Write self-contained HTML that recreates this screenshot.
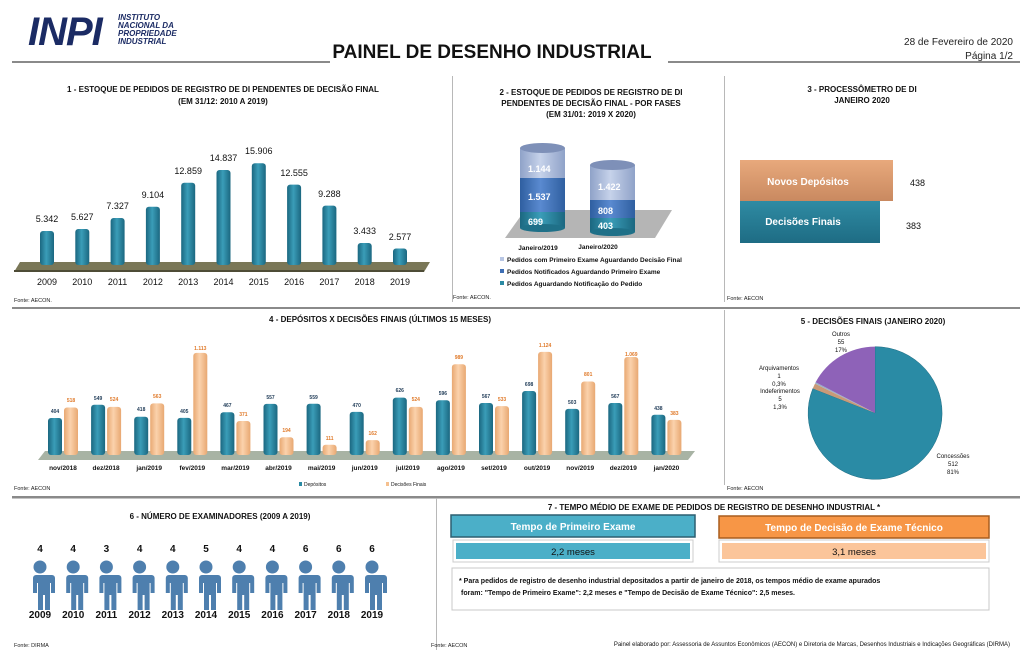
<!DOCTYPE html>
<html><head><meta charset="utf-8"><style>
html,body{margin:0;padding:0;background:#fff}
svg{display:block}
text{font-family:"Liberation Sans",sans-serif}
</style></head><body>
<svg width="1024" height="672" viewBox="0 0 1024 672" xmlns="http://www.w3.org/2000/svg">
<defs>
<linearGradient id="tl" x1="0" x2="1"><stop offset="0" stop-color="#1B6780"/><stop offset=".45" stop-color="#3A9DB8"/><stop offset="1" stop-color="#1B6780"/></linearGradient>
<linearGradient id="pc" x1="0" x2="1"><stop offset="0" stop-color="#E8A872"/><stop offset=".45" stop-color="#FBD2AC"/><stop offset="1" stop-color="#E8A872"/></linearGradient>
<linearGradient id="cb" x1="0" x2="1"><stop offset="0" stop-color="#2F5FA0"/><stop offset=".45" stop-color="#5A8AD0"/><stop offset="1" stop-color="#2F5FA0"/></linearGradient>
<linearGradient id="cl" x1="0" x2="1"><stop offset="0" stop-color="#8FA2C8"/><stop offset=".45" stop-color="#C6D2EA"/><stop offset="1" stop-color="#8FA2C8"/></linearGradient>
<linearGradient id="nd" x1="0" y1="0" x2="0" y2="1"><stop offset="0" stop-color="#E8A97C"/><stop offset="1" stop-color="#C98960"/></linearGradient>
<linearGradient id="df" x1="0" y1="0" x2="0" y2="1"><stop offset="0" stop-color="#2F8BA3"/><stop offset="1" stop-color="#1E6C84"/></linearGradient>
</defs>

<!-- Header -->
<text x="28" y="45" font-size="40" font-weight="bold" font-style="italic" fill="#1B2B64" letter-spacing="-1">INPI</text>
<g font-size="8" font-weight="bold" font-style="italic" fill="#1B2B64">
<text x="118" y="20">INSTITUTO</text><text x="118" y="28">NACIONAL DA</text><text x="118" y="36">PROPRIEDADE</text><text x="118" y="44">INDUSTRIAL</text></g>
<text x="492" y="58" font-size="19" font-weight="bold" text-anchor="middle" fill="#111">PAINEL DE DESENHO INDUSTRIAL</text>
<text x="1013" y="45" font-size="10" text-anchor="end" fill="#222">28 de Fevereiro de 2020</text>
<text x="1013" y="59" font-size="10" text-anchor="end" fill="#222">Página 1/2</text>
<g fill="#8A8A8A"><rect x="12" y="61" width="318" height="2"/><rect x="668" y="61" width="352" height="2"/>
<rect x="12" y="307" width="1008" height="2"/><rect x="12" y="496" width="1008" height="2.5"/></g>
<g fill="#B8B8B8"><rect x="452" y="76" width="1" height="226"/><rect x="724" y="76" width="1" height="226"/><rect x="724" y="310" width="1" height="175"/><rect x="436" y="498" width="1" height="152"/></g>

<!-- Chart 1 -->
<g font-size="8" text-anchor="middle" fill="#111" font-weight="bold">
<text x="223" y="92">1 - ESTOQUE DE PEDIDOS DE REGISTRO DE DI PENDENTES DE DECISÃO FINAL</text>
<text x="223" y="104">(EM 31/12: 2010 A 2019)</text></g>
<polygon points="20,262 430,262 424,272 14,272" fill="#7A7757"/>
<rect x="14" y="270" width="410" height="2" fill="#4E4C36"/>
<g fill="url(#tl)">
<rect x="40" y="231" width="14" height="34" rx="3"/>
<rect x="75.3" y="229" width="14" height="36" rx="3"/>
<rect x="110.6" y="218" width="14" height="47" rx="3"/>
<rect x="145.9" y="206.7" width="14" height="58.3" rx="3"/>
<rect x="181.2" y="182.7" width="14" height="82.3" rx="3"/>
<rect x="216.5" y="170" width="14" height="95" rx="3"/>
<rect x="251.8" y="163.2" width="14" height="101.8" rx="3"/>
<rect x="287.1" y="184.6" width="14" height="80.4" rx="3"/>
<rect x="322.4" y="205.6" width="14" height="59.4" rx="3"/>
<rect x="357.7" y="243" width="14" height="22" rx="3"/>
<rect x="393" y="248.5" width="14" height="16.5" rx="3"/></g>
<g font-size="9" text-anchor="middle" fill="#111">
<text x="47" y="222">5.342</text><text x="82.3" y="220">5.627</text><text x="117.6" y="209">7.327</text><text x="152.9" y="198">9.104</text><text x="188.2" y="174">12.859</text><text x="223.5" y="161">14.837</text><text x="258.8" y="154">15.906</text><text x="294.1" y="176">12.555</text><text x="329.4" y="197">9.288</text><text x="364.7" y="234">3.433</text><text x="400" y="240">2.577</text>
<text x="47" y="285">2009</text><text x="82.3" y="285">2010</text><text x="117.6" y="285">2011</text><text x="152.9" y="285">2012</text><text x="188.2" y="285">2013</text><text x="223.5" y="285">2014</text><text x="258.8" y="285">2015</text><text x="294.1" y="285">2016</text><text x="329.4" y="285">2017</text><text x="364.7" y="285">2018</text><text x="400" y="285">2019</text></g>
<g font-size="5.5" fill="#222"><text x="14" y="302">Fonte: AECON.</text><text x="453" y="299">Fonte: AECON.</text><text x="727" y="300">Fonte: AECON</text><text x="14" y="490">Fonte: AECON</text><text x="727" y="490">Fonte: AECON</text><text x="14" y="647">Fonte: DIRMA</text><text x="431" y="647">Fonte: AECON</text></g>

<!-- Chart 2 -->
<g font-size="8" text-anchor="middle" fill="#111" font-weight="bold">
<text x="591" y="95">2 - ESTOQUE DE PEDIDOS DE REGISTRO DE DI</text>
<text x="591" y="106">PENDENTES DE DECISÃO FINAL - POR FASES</text>
<text x="591" y="117">(EM 31/01: 2019 X 2020)</text></g>
<polygon points="525,210 672,210 655,238 505,238" fill="#B5B5B5"/>
<g>
<rect x="520" y="212" width="45" height="16" fill="url(#tl)"/><ellipse cx="542.5" cy="228" rx="22.5" ry="4" fill="#1F7088"/>
<rect x="520" y="178" width="45" height="34" fill="url(#cb)"/>
<rect x="520" y="148" width="45" height="30" fill="url(#cl)"/>
<ellipse cx="542.5" cy="148" rx="22.5" ry="5" fill="#7E90B8"/>
<rect x="590" y="218" width="45" height="14" fill="url(#tl)"/><ellipse cx="612.5" cy="232" rx="22.5" ry="4" fill="#1F7088"/>
<rect x="590" y="200" width="45" height="18" fill="url(#cb)"/>
<rect x="590" y="165" width="45" height="35" fill="url(#cl)"/>
<ellipse cx="612.5" cy="165" rx="22.5" ry="5" fill="#7E90B8"/></g>
<g font-size="9" fill="#fff" font-weight="bold">
<text x="528" y="172">1.144</text><text x="528" y="200">1.537</text><text x="528" y="225">699</text>
<text x="598" y="190">1.422</text><text x="598" y="214">808</text><text x="598" y="229">403</text></g>
<g font-size="6.5" fill="#111" font-weight="bold">
<text x="538" y="250" text-anchor="middle">Janeiro/2019</text><text x="598" y="249" text-anchor="middle">Janeiro/2020</text>
<rect x="500" y="257" width="4" height="4" fill="#B8C6E4"/><text x="507" y="262">Pedidos com Primeiro Exame Aguardando Decisão Final</text>
<rect x="500" y="269" width="4" height="4" fill="#3E6FB5"/><text x="507" y="274">Pedidos Notificados Aguardando Primeiro Exame</text>
<rect x="500" y="281" width="4" height="4" fill="#2A8AA3"/><text x="507" y="286">Pedidos Aguardando Notificação do Pedido</text></g>

<!-- Chart 3 -->
<g font-size="8" text-anchor="middle" fill="#111" font-weight="bold">
<text x="862" y="92">3 - PROCESSÔMETRO DE DI</text><text x="862" y="103">JANEIRO 2020</text></g>
<rect x="740" y="160" width="153" height="41" fill="url(#nd)"/>
<rect x="740" y="201" width="140" height="42" fill="url(#df)"/>
<g font-size="10" fill="#fff" font-weight="bold" text-anchor="middle">
<text x="808" y="185">Novos Depósitos</text><text x="803" y="225">Decisões  Finais</text></g>
<g font-size="9" fill="#111"><text x="910" y="186">438</text><text x="906" y="229">383</text></g>

<!-- Chart 4 -->
<text x="380" y="322" font-size="8" font-weight="bold" text-anchor="middle" fill="#111">4 - DEPÓSITOS X DECISÕES FINAIS (ÚLTIMOS 15 MESES)</text>
<polygon points="45,451 695,451 688,460 38,460" fill="#A8B3A4"/>
<g fill="url(#tl)">
<rect x="48" y="418" width="14" height="37" rx="3"/>
<rect x="91.1" y="404.7" width="14" height="50.3" rx="3"/>
<rect x="134.2" y="416.7" width="14" height="38.3" rx="3"/>
<rect x="177.3" y="417.9" width="14" height="37.1" rx="3"/>
<rect x="220.4" y="412.2" width="14" height="42.8" rx="3"/>
<rect x="263.5" y="403.9" width="14" height="51.1" rx="3"/>
<rect x="306.6" y="403.7" width="14" height="51.3" rx="3"/>
<rect x="349.7" y="411.9" width="14" height="43.1" rx="3"/>
<rect x="392.8" y="397.6" width="14" height="57.4" rx="3"/>
<rect x="435.9" y="400.3" width="14" height="54.7" rx="3"/>
<rect x="479" y="403" width="14" height="52" rx="3"/>
<rect x="522.1" y="391" width="14" height="64" rx="3"/>
<rect x="565.2" y="408.9" width="14" height="46.1" rx="3"/>
<rect x="608.3" y="403" width="14" height="52" rx="3"/>
<rect x="651.4" y="414.8" width="14" height="40.2" rx="3"/></g>
<g fill="url(#pc)">
<rect x="64" y="407.5" width="14" height="47.5" rx="3"/>
<rect x="107.1" y="406.9" width="14" height="48.1" rx="3"/>
<rect x="150.2" y="403.4" width="14" height="51.6" rx="3"/>
<rect x="193.3" y="352.9" width="14" height="102.1" rx="3"/>
<rect x="236.4" y="421" width="14" height="34" rx="3"/>
<rect x="279.5" y="437.2" width="14" height="17.8" rx="3"/>
<rect x="322.6" y="444.8" width="14" height="10.2" rx="3"/>
<rect x="365.7" y="440.1" width="14" height="14.9" rx="3"/>
<rect x="408.8" y="406.9" width="14" height="48.1" rx="3"/>
<rect x="451.9" y="364.3" width="14" height="90.7" rx="3"/>
<rect x="495" y="406.1" width="14" height="48.9" rx="3"/>
<rect x="538.1" y="351.9" width="14" height="103.1" rx="3"/>
<rect x="581.2" y="381.5" width="14" height="73.5" rx="3"/>
<rect x="624.3" y="357" width="14" height="98" rx="3"/>
<rect x="667.4" y="419.9" width="14" height="35.1" rx="3"/></g>
<g font-size="5" font-weight="bold" text-anchor="middle" fill="#1F3B57">
<text x="55" y="413">404</text><text x="98.1" y="400">549</text><text x="141.2" y="411">418</text><text x="184.3" y="413">405</text><text x="227.4" y="407">467</text><text x="270.5" y="399">557</text><text x="313.6" y="399">559</text><text x="356.7" y="407">470</text><text x="399.8" y="392">626</text><text x="442.9" y="395">596</text><text x="486" y="398">567</text><text x="529.1" y="386">698</text><text x="572.2" y="404">503</text><text x="615.3" y="398">567</text><text x="658.4" y="410">438</text></g>
<g font-size="5" font-weight="bold" text-anchor="middle" fill="#E07A2A">
<text x="71" y="402">518</text><text x="114.1" y="401">524</text><text x="157.2" y="398">563</text><text x="200.3" y="350">1.113</text><text x="243.4" y="416">371</text><text x="286.5" y="432">194</text><text x="329.6" y="440">111</text><text x="372.7" y="435">162</text><text x="415.8" y="401">524</text><text x="458.9" y="359">989</text><text x="502" y="401">533</text><text x="545.1" y="347">1.124</text><text x="588.2" y="376">801</text><text x="631.3" y="356">1.069</text><text x="674.4" y="415">383</text></g>
<g font-size="6.5" font-weight="bold" text-anchor="middle" fill="#111">
<text x="63" y="470">nov/2018</text><text x="106.1" y="470">dez/2018</text><text x="149.2" y="470">jan/2019</text><text x="192.3" y="470">fev/2019</text><text x="235.4" y="470">mar/2019</text><text x="278.5" y="470">abr/2019</text><text x="321.6" y="470">mai/2019</text><text x="364.7" y="470">jun/2019</text><text x="407.8" y="470">jul/2019</text><text x="450.9" y="470">ago/2019</text><text x="494" y="470">set/2019</text><text x="537.1" y="470">out/2019</text><text x="580.2" y="470">nov/2019</text><text x="623.3" y="470">dez/2019</text><text x="666.4" y="470">jan/2020</text></g>
<rect x="299" y="482" width="3" height="4" fill="#2A8AA3"/><text x="304" y="486" font-size="5" fill="#111">Depósitos</text>
<rect x="386" y="482" width="3" height="4" fill="#F5C08F"/><text x="391" y="486" font-size="5" fill="#111">Decisões Finais</text>

<!-- Chart 5 -->
<text x="873" y="324" font-size="8" font-weight="bold" text-anchor="middle" fill="#111">5 - DECISÕES FINAIS (JANEIRO 2020)</text>
<g transform="translate(875,413) scale(1,0.99)">
<path d="M0,0 L0,-67 A67,67 0 1 1 -62.2,-24.7 Z" fill="#2A8BA5" stroke="#1D6A80" stroke-width=".5"/>
<path d="M0,0 L-62.2,-24.7 A67,67 0 0 1 -60.0,-29.7 Z" fill="#C99A78"/>
<path d="M0,0 L-60.0,-29.7 A67,67 0 0 1 -59.4,-31.0 Z" fill="#9BB0C8"/>
<path d="M0,0 L-59.4,-31.0 A67,67 0 0 1 0,-67 Z" fill="#8E62B8"/>
</g>
<g font-size="6" text-anchor="middle" fill="#111">
<text x="841" y="336">Outros</text><text x="841" y="344">55</text><text x="841" y="352">17%</text>
<text x="779" y="370">Arquivamentos</text><text x="779" y="378">1</text><text x="779" y="386">0,3%</text>
<text x="780" y="393">Indeferimentos</text><text x="780" y="401">5</text><text x="780" y="409">1,3%</text>
<text x="953" y="458">Concessões</text><text x="953" y="466">512</text><text x="953" y="474">81%</text></g>

<!-- Section 6 -->
<text x="220" y="519" font-size="8" font-weight="bold" text-anchor="middle" fill="#111">6 - NÚMERO DE EXAMINADORES (2009 A 2019)</text>
<defs><g id="p" fill="#4E7FAE">
<circle cx="0" cy="-33" r="6.5"/>
<path d="M-12,-25 h24 a3,3 0 0 1 3,3 v15 h-4 v-10 h-1 v27 h-5 v-15 h-2 v15 h-5 v-27 h-1 v10 h-4 v-15 a3,3 0 0 1 3,-3z"/>
</g></defs>
<g>
<use href="#p" x="40" y="600"/><use href="#p" x="73.2" y="600"/><use href="#p" x="106.4" y="600"/><use href="#p" x="139.6" y="600"/><use href="#p" x="172.8" y="600"/><use href="#p" x="206" y="600"/><use href="#p" x="239.2" y="600"/><use href="#p" x="272.4" y="600"/><use href="#p" x="305.6" y="600"/><use href="#p" x="338.8" y="600"/><use href="#p" x="372" y="600"/></g>
<g font-size="10" font-weight="bold" text-anchor="middle" fill="#111">
<text x="40" y="552">4</text><text x="73.2" y="552">4</text><text x="106.4" y="552">3</text><text x="139.6" y="552">4</text><text x="172.8" y="552">4</text><text x="206" y="552">5</text><text x="239.2" y="552">4</text><text x="272.4" y="552">4</text><text x="305.6" y="552">6</text><text x="338.8" y="552">6</text><text x="372" y="552">6</text>
<text x="40" y="618">2009</text><text x="73.2" y="618">2010</text><text x="106.4" y="618">2011</text><text x="139.6" y="618">2012</text><text x="172.8" y="618">2013</text><text x="206" y="618">2014</text><text x="239.2" y="618">2015</text><text x="272.4" y="618">2016</text><text x="305.6" y="618">2017</text><text x="338.8" y="618">2018</text><text x="372" y="618">2019</text></g>

<!-- Section 7 -->
<text x="714" y="510" font-size="8" font-weight="bold" text-anchor="middle" fill="#111">7 - TEMPO MÉDIO DE EXAME DE PEDIDOS DE REGISTRO DE DESENHO INDUSTRIAL *</text>
<rect x="451" y="515" width="244" height="22" fill="#4BAFC8" stroke="#2C5F70" stroke-width="1.5"/>
<text x="573" y="530" font-size="10" font-weight="bold" text-anchor="middle" fill="#fff">Tempo de Primeiro Exame</text>
<rect x="719" y="516" width="270" height="22" fill="#F79646" stroke="#A85D1E" stroke-width="1.5"/>
<text x="854" y="531" font-size="10" font-weight="bold" text-anchor="middle" fill="#fff">Tempo de Decisão de Exame Técnico</text>
<rect x="453" y="540" width="240" height="22" fill="#fff" stroke="#ccc"/>
<rect x="456" y="543" width="234" height="16" fill="#4BAFC8"/>
<text x="573" y="555" font-size="9.5" text-anchor="middle" fill="#111">2,2 meses</text>
<rect x="719" y="540" width="270" height="22" fill="#fff" stroke="#ccc"/>
<rect x="722" y="543" width="264" height="16" fill="#FBC59A"/>
<text x="854" y="555" font-size="9.5" text-anchor="middle" fill="#111">3,1 meses</text>
<rect x="452" y="568" width="537" height="42" fill="#fff" stroke="#C8C8C8"/>
<g font-size="7" font-weight="bold" fill="#111">
<text x="459" y="583">*  Para pedidos de registro de desenho industrial depositados a partir de  janeiro de 2018, os tempos médio de exame apurados</text>
<text x="461" y="595">foram: "Tempo de Primeiro Exame": 2,2 meses e "Tempo de Decisão de Exame Técnico": 2,5 meses.</text></g>
<text x="1010" y="646" font-size="6" text-anchor="end" fill="#111">Painel elaborado por: Assessoria de Assuntos Econômicos (AECON) e Diretoria de Marcas, Desenhos Industriais e Indicações Geográficas (DIRMA)</text>
</svg>
</body></html>
